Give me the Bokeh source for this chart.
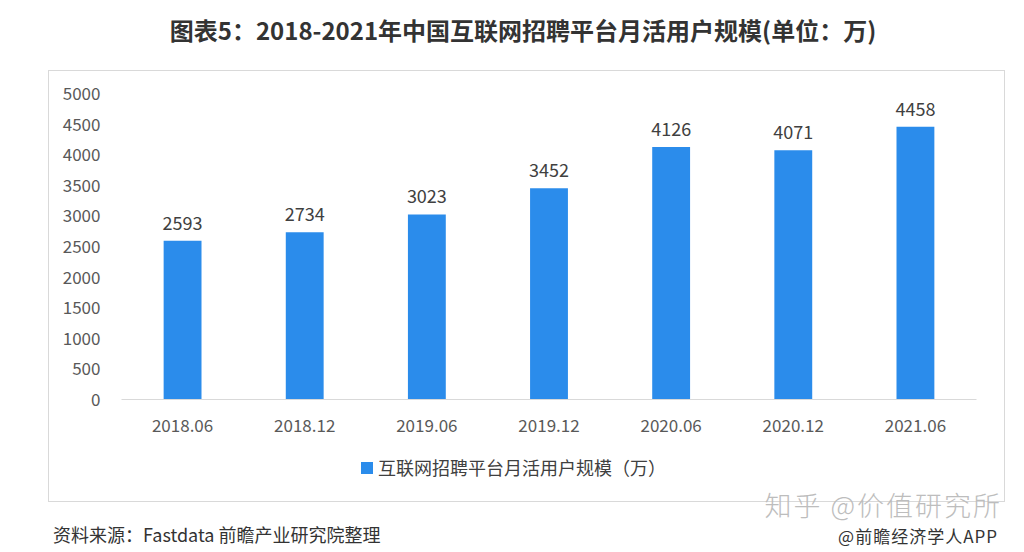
from bokeh.plotting import figure
from bokeh.models import ColumnDataSource, Range1d, FactorRange, LabelSet, Div
from bokeh.layouts import column
from bokeh.core.properties import value
from bokeh.embed import file_html
from bokeh.resources import INLINE

categories = ["2018.06", "2018.12", "2019.06", "2019.12", "2020.06", "2020.12", "2021.06"]
users = [2593, 2734, 3023, 3452, 4126, 4071, 4458]
value_labels = [str(v) for v in users]
series_name = "互联网招聘平台月活用户规模（万）"
title_text = "图表5：2018-2021年中国互联网招聘平台月活用户规模(单位：万)"
source_text = "资料来源：Fastdata 前瞻产业研究院整理"
credit_text = "@前瞻经济学人APP"
mark_text = "知乎 @价值研究所"
y_ticks = list(range(0, 5001, 500))

FONT = "Noto Sans CJK SC"
BLUE = "#2B8CEB"

title_div = Div(
    text=f'<div style="width:1024px;height:71px;text-align:center;font-family:\'{FONT}\';'
         f'font-size:24px;font-weight:bold;color:#333333;line-height:28px;'
         f'padding-top:16px;padding-left:22px;box-sizing:border-box;white-space:nowrap">{title_text}</div>',
    width=1024, height=70, margin=0)

p = figure(x_range=FactorRange(*categories), y_range=Range1d(0, 5000),
           width=955, height=370, output_backend="svg", toolbar_location=None,
           min_border_left=72, min_border_right=28, min_border_top=22,
           min_border_bottom=42, margin=0)
p.outline_line_color = None
p.xgrid.grid_line_color = None
p.ygrid.grid_line_color = None
p.x_range.range_padding = 0.0

src = ColumnDataSource(dict(cat=categories, val=users, lab=value_labels))
p.vbar(x="cat", top="val", width=0.31, source=src, fill_color=BLUE, line_color=None)

labels = LabelSet(x="cat", y="val", text="lab", source=src, y_offset=11,
                  text_align="center", text_baseline="bottom",
                  text_font=value(FONT), text_font_size="18px", text_color="#404040")
p.add_layout(labels)

p.yaxis.ticker = y_ticks
p.yaxis.axis_line_color = None
p.yaxis.major_tick_line_color = None
p.yaxis.minor_tick_line_color = None
p.yaxis.major_label_standoff = 15
p.yaxis.major_label_text_font = FONT
p.yaxis.major_label_text_font_size = "17px"
p.yaxis.major_label_text_color = "#595959"

p.xaxis.axis_line_color = "#D9D9D9"
p.xaxis.major_tick_line_color = None
p.xaxis.minor_tick_line_color = None
p.xaxis.major_label_standoff = 13
p.xaxis.major_label_text_font = FONT
p.xaxis.major_label_text_font_size = "17px"
p.xaxis.major_label_text_color = "#595959"

legend_div = Div(
    text=(f'<div style="width:955px;height:60px;font-family:\'{FONT}\';position:relative">'
          f'<span style="position:absolute;left:312px;top:21px;width:12px;height:12px;'
          f'background:{BLUE}"></span>'
          f'<span style="position:absolute;left:329px;top:14px;font-size:18px;color:#404040;'
          f'line-height:24px;white-space:nowrap">{series_name}</span></div>'),
    width=955, height=60, margin=0)

box = column(p, legend_div, spacing=0, margin=(0, 0, 0, 48),
             styles={"border": "1px solid #D9D9D9"})

footer_div = Div(
    text=(f'<div style="position:relative;width:1024px;height:48px;font-family:\'{FONT}\';">'
          f'<span style="position:absolute;right:22px;top:-11px;font-size:27px;letter-spacing:2px;'
          f'font-weight:300;color:#BDBDBD;line-height:27px;white-space:nowrap">{mark_text}</span>'
          f'<span style="position:absolute;left:53px;top:21px;font-size:18px;color:#333333;'
          f'line-height:22px;white-space:nowrap">{source_text}</span>'
          f'<span style="position:absolute;right:26px;top:24px;font-size:17px;letter-spacing:1px;'
          f'color:#333333;line-height:20px;white-space:nowrap">{credit_text}</span>'
          f'</div>'),
    width=1024, height=48, margin=0, styles={"overflow": "visible"})

layout = column(title_div, box, footer_div, spacing=0)

open("out.html", "w").write(file_html(layout, INLINE))
